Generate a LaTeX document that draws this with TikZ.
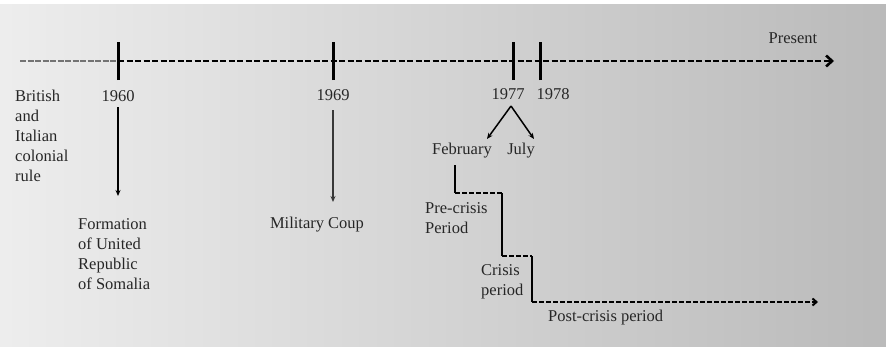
\documentclass[tikz,border=0pt]{standalone}
\usepackage{fontspec}
\setmainfont{Liberation Serif}
\usetikzlibrary{arrows.meta}
\begin{document}
\begin{tikzpicture}[x=1pt,y=-1pt,
  lbl/.style={inner sep=0pt,text=black!85,font=\fontsize{16.5}{20}\selectfont},
  mlbl/.style={lbl,align=left,anchor=west},
  tick/.style={line width=3pt,black},
  mainline/.style={line width=2.8pt,black,dash pattern=on 6pt off 2.5pt},
  preline/.style={line width=1.6pt,black!55,dash pattern=on 6pt off 1.5pt},
  stepv/.style={line width=2pt,black},
  steph/.style={line width=2pt,black,dash pattern=on 5pt off 2pt},
  evarrow/.style={-{Stealth[length=6pt,width=5pt]},line width=1.5pt,black},
]
\useasboundingbox (0,0) rectangle (886,346);
\fill[white] (0,0) rectangle (886,346);
\shade[left color=black!7,right color=black!27] (0,4) rectangle (886,346);

% main timeline
\coordinate (start) at (20,61);
\coordinate (t60) at (118,61);
\coordinate (t69) at (333,61);
\coordinate (t77) at (513,61);
\coordinate (t78) at (540,61);
\coordinate (tend) at (834,61);
\draw[preline] (start) -- (t60);
\draw[mainline] (t60) -- ([xshift=-6pt]tend);
\draw[line width=2.6pt,-{Straight Barb[length=6pt,width=11pt,line width=2.6pt]}] ([xshift=-8pt]tend) -- (tend);
\foreach \t in {t60,t69,t77,t78}
  \draw[tick] ([yshift=-19pt]\t) -- ([yshift=19pt]\t);

\node[lbl] (present) at (793,38) {Present};

% year labels
\node[lbl] (y60) at (118,96) {1960};
\node[lbl] (y69) at (333,95) {1969};
\node[lbl] (y77) at (508,94) {1977};
\node[lbl] (y78) at (553,94) {1978};

\node[mlbl] (colonial) at (15,136) {British\\and\\Italian\\colonial\\rule};

% 1960 event
\coordinate (a60) at (118,107);
\node[mlbl] (formation) at (78,254) {Formation\\of United\\Republic\\of Somalia};
\draw[evarrow] (a60) -- (118,196);

% 1969 event
\coordinate (a69) at (333,110);
\node[lbl] (coup) at (317,225) {Military Coup};
\draw[-{Stealth[length=6pt,width=5pt]},line width=1.2pt,black!78] (a69) -- (333,202);

% 1977 split
\coordinate (apex) at (511,106);
\node[lbl] (feb) at (462,151) {February};
\node[lbl] (jul) at (521,151) {July};
\draw[evarrow] (apex) -- (487,139);
\draw[evarrow] (apex) -- (534,139);

% step periods
\coordinate (s0) at (455,165);
\coordinate (s1) at (455,193);
\coordinate (s2) at (502,193);
\coordinate (s3) at (502,256);
\coordinate (s4) at (532,256);
\coordinate (s5) at (532,302);
\coordinate (s6) at (818,302);
\draw[stepv] (s0) -- (s1);
\draw[steph] (s1) -- (s2);
\draw[stepv] (s2) -- (s3);
\draw[steph] (s3) -- (s4);
\draw[stepv] (s4) -- (s5);
\draw[steph] (s5) -- ([xshift=-5pt]s6);
\draw[line width=2pt,-{Straight Barb[length=4pt,width=7pt,line width=2pt]}] ([xshift=-6pt]s6) -- (s6);

\node[mlbl] (pre) at (425,218) {Pre-crisis\\Period};
\node[mlbl] (crisis) at (481,281.5) {Crisis\\period};
\node[lbl,anchor=west] (post) at (548,318) {Post-crisis period};
\end{tikzpicture}
\end{document}
